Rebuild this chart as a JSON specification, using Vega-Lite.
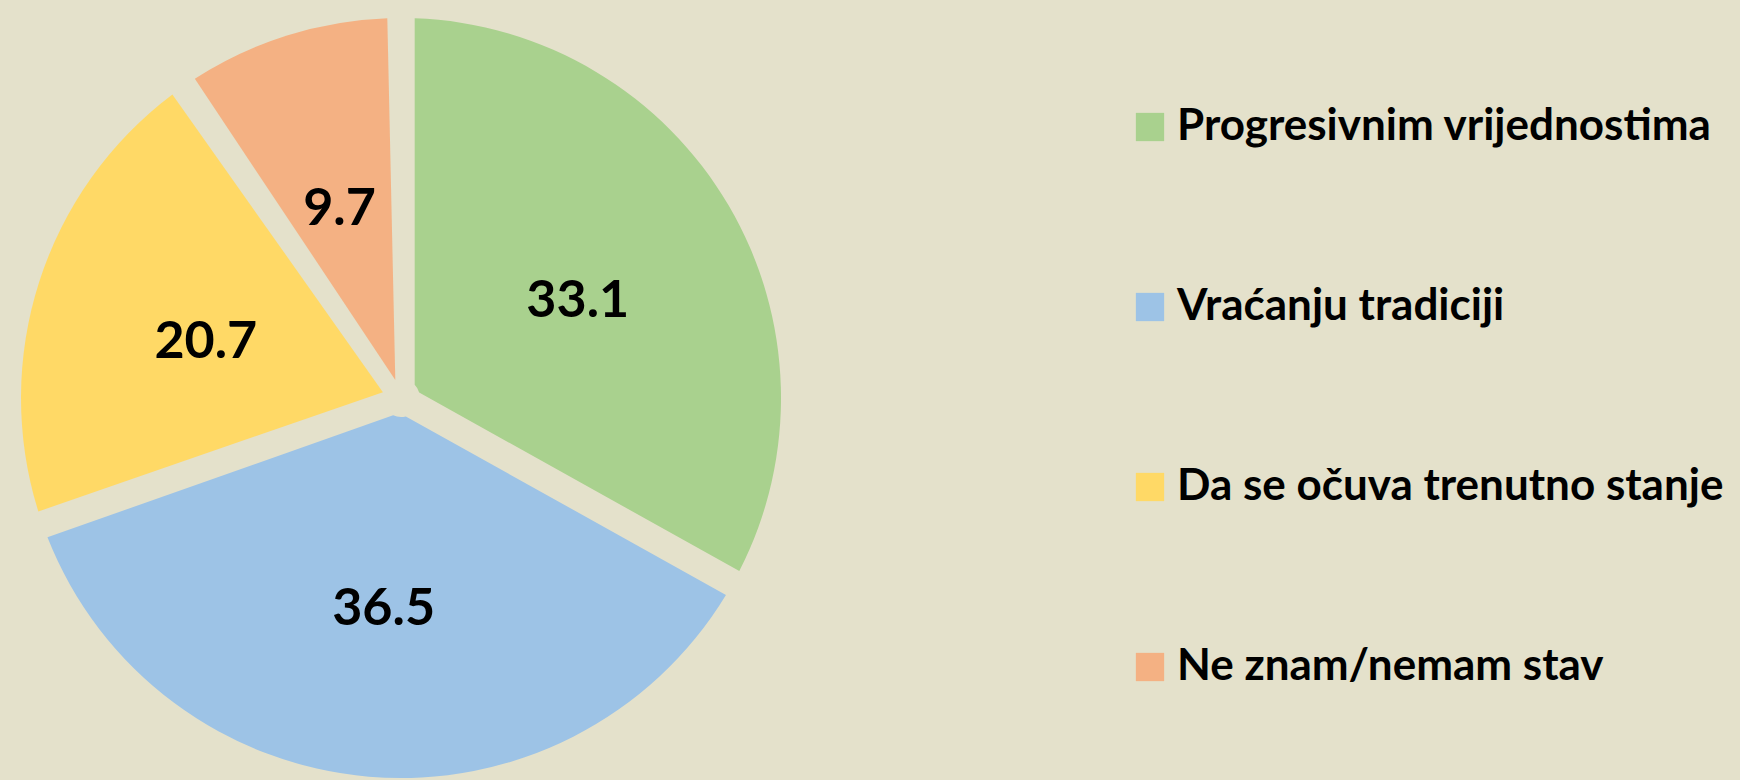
{
  "$schema": "https://vega.github.io/schema/vega-lite/v6.json",
  "width": 802,
  "height": 796,
  "padding": {"left": 0, "top": 0, "right": 80, "bottom": 0},
  "background": "#E4E1CB",
  "view": {"stroke": null},
  "data": {
    "values": [
      {"category": "Progresivnim vrijednostima", "value": 33.1, "order": 1},
      {"category": "Vraćanju tradiciji", "value": 36.5, "order": 2},
      {"category": "Da se očuva trenutno stanje", "value": 20.7, "order": 3},
      {"category": "Ne znam/nemam stav", "value": 9.7, "order": 4}
    ]
  },
  "encoding": {
    "theta": {"field": "value", "type": "quantitative", "stack": true},
    "order": {"field": "order", "type": "quantitative", "sort": "ascending"}
  },
  "layer": [
    {
      "mark": {"type": "arc", "outerRadius": 380, "innerRadius": 19, "padAngle": 0.072},
      "encoding": {
        "color": {
          "field": "category",
          "type": "nominal",
          "sort": ["Progresivnim vrijednostima", "Vraćanju tradiciji", "Da se očuva trenutno stanje", "Ne znam/nemam stav"],
          "scale": {
            "domain": ["Progresivnim vrijednostima", "Vraćanju tradiciji", "Da se očuva trenutno stanje", "Ne znam/nemam stav"],
            "range": ["#A9D18E", "#9DC3E6", "#FFD966", "#F4B183"]
          },
          "legend": {
            "title": null,
            "orient": "none",
            "legendX": 1128,
            "legendY": 105,
            "padding": 0,
            "symbolType": "square",
            "symbolSize": 800,
            "symbolStrokeWidth": 0,
            "symbolOpacity": 1,
            "labelFont": "Lato",
            "labelFontSize": 44,
            "labelFontWeight": "bold",
            "labelColor": "#000000",
            "labelOffset": 5,
            "labelLimit": 800,
            "rowPadding": 136
          }
        }
      }
    },
    {
      "mark": {"type": "text", "radius": 205, "dy": 7, "font": "Lato", "fontSize": 52, "fontWeight": "bold", "baseline": "middle", "align": "center"},
      "encoding": {
        "text": {"field": "value", "type": "quantitative", "format": ".1f"},
        "color": {"value": "#000000"}
      }
    }
  ]
}
